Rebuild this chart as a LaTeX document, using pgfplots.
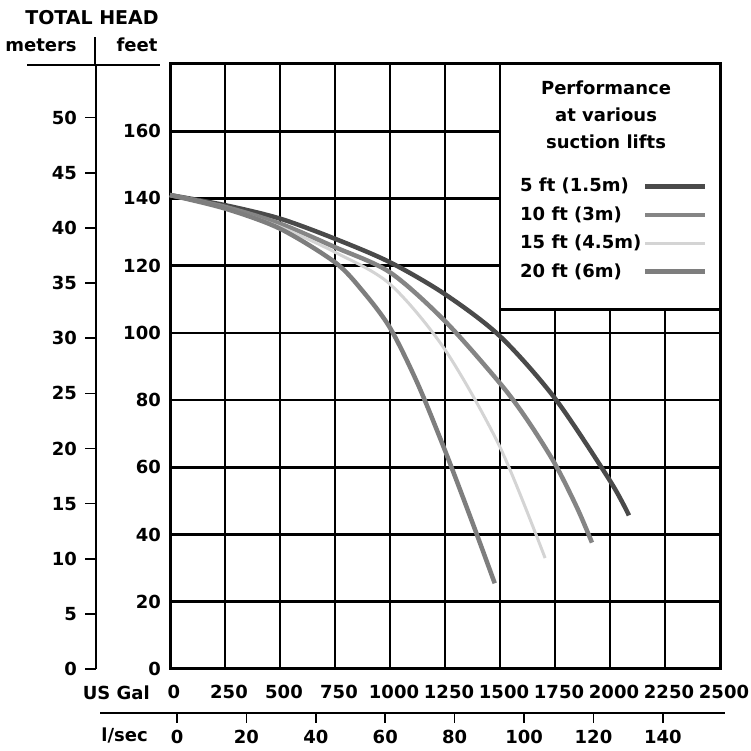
\documentclass[border=0pt]{standalone}
\usepackage{pgfplots}
\pgfplotsset{compat=1.18}
\usepackage{fontspec}
\setmainfont{DejaVu Sans}
\definecolor{c5}{HTML}{4A4A4A}
\definecolor{c10}{HTML}{858585}
\definecolor{c15}{HTML}{D4D4D4}
\definecolor{c20}{HTML}{7E7E7E}
\begin{document}
\fontsize{18}{22}\selectfont\bfseries
\begin{tikzpicture}[x=1pt,y=1pt]
\useasboundingbox (0pt,0pt) rectangle (750pt,751pt);
% meters axis
\begin{axis}[
  at={(96pt,82pt)}, anchor=south west, scale only axis,
  width=10pt, height=605pt,
  xmin=0, xmax=1, ymin=0, ymax=54.864,
  axis y line=left, axis x line=none,
  ytick={0,5,...,50},
  tick align=outside, major tick length=11pt,
  tick style={line width=1.6pt, black},
  y axis line style={-, line width=2.4pt},
  /pgf/number format/assume math mode=true,
  yticklabel style={anchor=east, inner sep=0pt, xshift=-8pt},
]
\addplot[draw=none] coordinates {(0,0)};
\end{axis}
% l/sec axis
\begin{axis}[
  at={(100pt,38pt)}, anchor=south west, scale only axis,
  width=625pt, height=1pt,
  xmin=-22.2, xmax=157.9, ymin=0, ymax=1,
  axis x line=bottom, axis y line=none,
  xtick={0,20,...,140},
  tick align=outside, major tick length=10pt,
  tick style={line width=1.6pt, black},
  x axis line style={-, line width=2.4pt},
  /pgf/number format/assume math mode=true,
  xticklabel style={anchor=center, inner sep=0pt, yshift=-14pt},
]
\addplot[draw=none] coordinates {(0,0)};
\end{axis}
% main chart
\begin{axis}[
  at={(170pt,82pt)}, anchor=south west, scale only axis,
  width=550pt, height=605pt,
  xmin=0, xmax=2500, ymin=0, ymax=180,
  xtick={0,250,...,2500},
  xticklabels={0,250,500,750,1000,1250,1500,1750,2000,2250,2500},
  ytick={0,20,...,160},
  yticklabels={0,20,40,60,80,100,120,140,160},
  grid=major, major grid style={black, line width=2.6pt},
  axis line style={line width=3pt},
  tick style={draw=none},
  xticklabel style={anchor=center, inner sep=0pt, yshift=-23pt, xshift=4pt},
  yticklabel style={anchor=east, inner sep=0pt, xshift=-9pt},
  clip=false,
  legend style={at={(axis cs:1584,146.5)}, anchor=north west, draw=none, fill=none,
    inner sep=0pt, legend plot pos=right, cells={anchor=west}, row sep=9pt,
    nodes={inner sep=1.5pt}, column sep=0pt},
  legend image code/.code={\draw[#1] (0pt,0pt) -- (60pt,0pt);},
]
\draw[fill=white, line width=2.6pt] (axis cs:1500,107) rectangle (axis cs:2500,180);
\node[align=center, anchor=center, inner sep=0pt, font=\fontsize{18}{27}\selectfont\bfseries] at (axis cs:1982,164.8)
  {Performance\\at various\\suction lifts};
\addplot[c5, line width=4.5pt, smooth, tension=0.5] coordinates {
 (0,141) (250,138) (500,134) (750,128) (1000,121) (1250,111.5) (1500,99) (1750,80.5) (2000,56) (2086,45.7)};
\addlegendentry{5 ft (1.5m)}
\addplot[c10, line width=4.5pt, smooth, tension=0.5] coordinates {
 (0,141) (250,137.5) (500,132.5) (750,125.5) (1000,118) (1250,103.5) (1500,85) (1625,74) (1750,61) (1850,48) (1918,37.6)};
\addlegendentry{10 ft (3m)}
\addplot[c15, line width=3pt, smooth, tension=0.5] coordinates {
 (0,141) (250,137) (500,131.5) (750,124) (1000,114.5) (1250,95) (1500,66) (1705,33)};
\addlegendentry{15 ft (4.5m)}
\addplot[c20, line width=4.5pt, smooth, tension=0.5] coordinates {
 (0,141) (250,137) (500,131) (750,121) (875,112.5) (1000,101.5) (1125,85) (1250,65) (1375,43.5) (1476,25.5)};
\addlegendentry{20 ft (6m)}
\end{axis}
% header and side labels
\draw[line width=2.4pt] (27pt,686pt) -- (160pt,686pt);
\draw[line width=2.4pt] (95pt,686pt) -- (95pt,714pt);
\node[font=\fontsize{19}{22}\selectfont\bfseries] at (92pt,733pt) {TOTAL HEAD};
\node at (41pt,706pt) {meters};
\node at (137pt,706pt) {feet};
\node[anchor=east] at (156pt,58pt) {US Gal};
\node[anchor=east] at (154pt,16pt) {l/sec};
\end{tikzpicture}
\end{document}
